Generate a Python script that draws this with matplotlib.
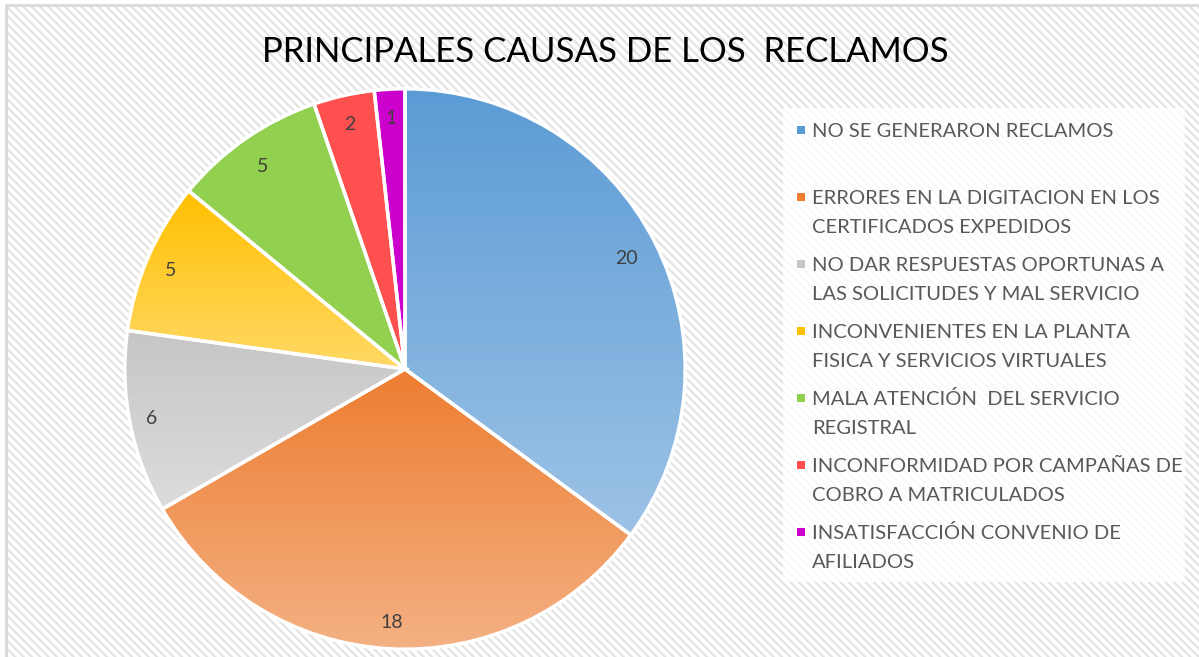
import numpy as np
import matplotlib
matplotlib.use("Agg")
import matplotlib.pyplot as plt
from matplotlib.colors import LinearSegmentedColormap
from matplotlib.patches import Rectangle

plt.rcParams["font.family"] = ["Lato", "DejaVu Sans"]
plt.rcParams["hatch.linewidth"] = 1.6
plt.rcParams["hatch.color"] = "#e3e3e3"

TITLE = "PRINCIPALES CAUSAS DE LOS  RECLAMOS"
causes = [
    "NO SE GENERARON RECLAMOS",
    "ERRORES EN LA DIGITACION EN LOS\nCERTIFICADOS EXPEDIDOS",
    "NO DAR RESPUESTAS OPORTUNAS A\nLAS SOLICITUDES Y MAL SERVICIO",
    "INCONVENIENTES EN LA PLANTA\nFISICA Y SERVICIOS VIRTUALES",
    "MALA ATENCIÓN  DEL SERVICIO\nREGISTRAL",
    "INCONFORMIDAD POR CAMPAÑAS DE\nCOBRO A MATRICULADOS",
    "INSATISFACCIÓN CONVENIO DE\nAFILIADOS",
]
counts = [20, 18, 6, 5, 5, 2, 1]
# (top colour, bottom colour) of each slice gradient
grad_top = ["#5b9bd5", "#ed7d31", "#c6c6c6", "#ffc000", "#92d050", "#ff5050", "#cc00cc"]
grad_bot = ["#9dc3e6", "#f4b183", "#dcdcdc", "#ffd966", "#92d050", "#ff5050", "#cc00cc"]

W, H = 1199, 657
fig = plt.figure(figsize=(W / 100, H / 100), dpi=100)
fig.patch.set_facecolor("white")

# striped chart area background + thin border
bg = fig.add_axes([0, 0, 1, 1])
bg.set_xlim(0, W)
bg.set_ylim(H, 0)
bg.axis("off")
bg.add_patch(Rectangle((6, 4), W + 10, H + 10, facecolor="white",
                       edgecolor="#e3e3e3", hatch="\\\\\\\\", lw=0))
bg.plot([6, 6, W + 5], [H + 5, 4.5, 4.5], color="#d9d9d9", lw=2)
# legend box
bg.add_patch(Rectangle((783, 108), 402, 474, facecolor="white",
                       alpha=0.8, edgecolor="none"))

# pie
cx, cy, r = 405, 369, 283
ax = fig.add_axes([(cx - r) / W, (H - cy - r) / H, 2 * r / W, 2 * r / H])
wedges, texts = ax.pie(counts, startangle=90, counterclock=False, radius=1,
                       labels=[str(v) for v in counts], labeldistance=0.78,
                       wedgeprops=dict(edgecolor="white", linewidth=2.5),
                       textprops=dict(fontsize=14, color="#404040"))
for w, c0, c1 in zip(wedges, grad_top, grad_bot):
    w.set_facecolor("none")
    ext = w.get_path().get_extents()
    cmap = LinearSegmentedColormap.from_list("g", [c1, c0])
    im = ax.imshow(np.linspace(0, 1, 256).reshape(-1, 1), cmap=cmap,
                   extent=[ext.x0, ext.x1, ext.y0, ext.y1], origin="lower",
                   aspect="auto", zorder=0.5)
    im.set_clip_path(w)
    w.set_zorder(1)
ax.set_xlim(-1.01, 1.01)
ax.set_ylim(-1.01, 1.01)

# place the slice labels where the original has them
label_pos = [(626, 258), (392, 622), (152, 418), (171, 270), (263, 166), (350, 124), (391, 118)]
for t, (px, py) in zip(texts, label_pos):
    t.set_transform(bg.transData)
    t.set_position((px, py))
    t.set_ha("center")
    t.set_va("center")

fig.text(605 / W, 1 - 52 / H, TITLE, ha="center", va="center",
         fontsize=25, color="black")

# legend
for i, (lab, col) in enumerate(zip(causes, grad_top)):
    y0 = 130 + i * 67
    bg.add_patch(Rectangle((797, y0 - 4), 8, 8, facecolor=col, edgecolor="none"))
    for k, line in enumerate(lab.split("\n")):
        bg.text(812, y0 + 7 + k * 29, line, ha="left", va="baseline",
                fontsize=14.5, color="#595959")

fig.savefig("out.png", dpi=100)
